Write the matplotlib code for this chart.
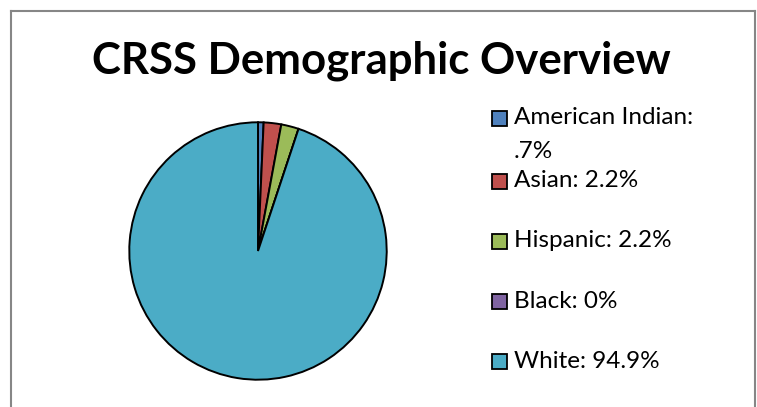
import matplotlib.pyplot as plt
from matplotlib.patches import Rectangle
from matplotlib.lines import Line2D

# data
groups = ["American Indian", "Asian", "Hispanic", "Black", "White"]
shares = [0.7, 2.2, 2.2, 0.0, 94.9]
share_text = [".7%", "2.2%", "2.2%", "0%", "94.9%"]
colors = ["#4F81BD", "#C0504D", "#9BBB59", "#8064A2", "#4BACC6"]

W, H = 757, 407
fig = plt.figure(figsize=(W / 100, H / 100), dpi=100)
plt.rcParams["font.family"] = ["Lato", "DejaVu Sans"]

# chart frame (no bottom edge visible in the reference)
for xs, ys in [((11, 11), (0, 396)), ((11, 755), (396, 396)), ((755, 755), (396, 0))]:
    fig.add_artist(Line2D([x / W for x in xs], [y / H for y in ys],
                          color="#868686", linewidth=1.5))

fig.text(381 / W, 1 - 61 / H, "CRSS Demographic Overview", ha="center", va="center",
         fontsize=31.5, fontweight="bold", color="black")

# pie: centre (258, 251), radius 130 px
cx, cy, r = 258, 251, 130
ax = fig.add_axes([(cx - r) / W, (H - cy - r) / H, 2 * r / W, 2 * r / H])
vals = [max(v, 1e-9) for v in shares]
ax.pie(vals, colors=colors, startangle=90, counterclock=False,
       wedgeprops={"edgecolor": "black", "linewidth": 1.4})
ax.set_xlim(-1.01, 1.01)
ax.set_ylim(-1.01, 1.01)
ax.set_aspect("equal")
ax.axis("off")

# legend entries drawn by hand to follow Excel's wrapped layout
leg_y = [118, 181, 241, 301, 361]
fs = 17.5
for name, txt, col, y in zip(groups, share_text, colors, leg_y):
    fig.add_artist(Rectangle((492 / W, 1 - (y + 7.5) / H), 15 / W, 15 / H,
                             facecolor=col, edgecolor="black", linewidth=1.3,
                             transform=fig.transFigure))
    if name == "American Indian":
        fig.text(514 / W, 1 - y / H, name + ":", ha="left", va="center",
                 fontsize=fs, color="black")
        fig.text(514 / W, 1 - 151 / H, txt, ha="left", va="center",
                 fontsize=fs, color="black")
    else:
        fig.text(514 / W, 1 - y / H, f"{name}: {txt}", ha="left", va="center",
                 fontsize=fs, color="black")

fig.savefig("out.png", dpi=100, facecolor="white")
